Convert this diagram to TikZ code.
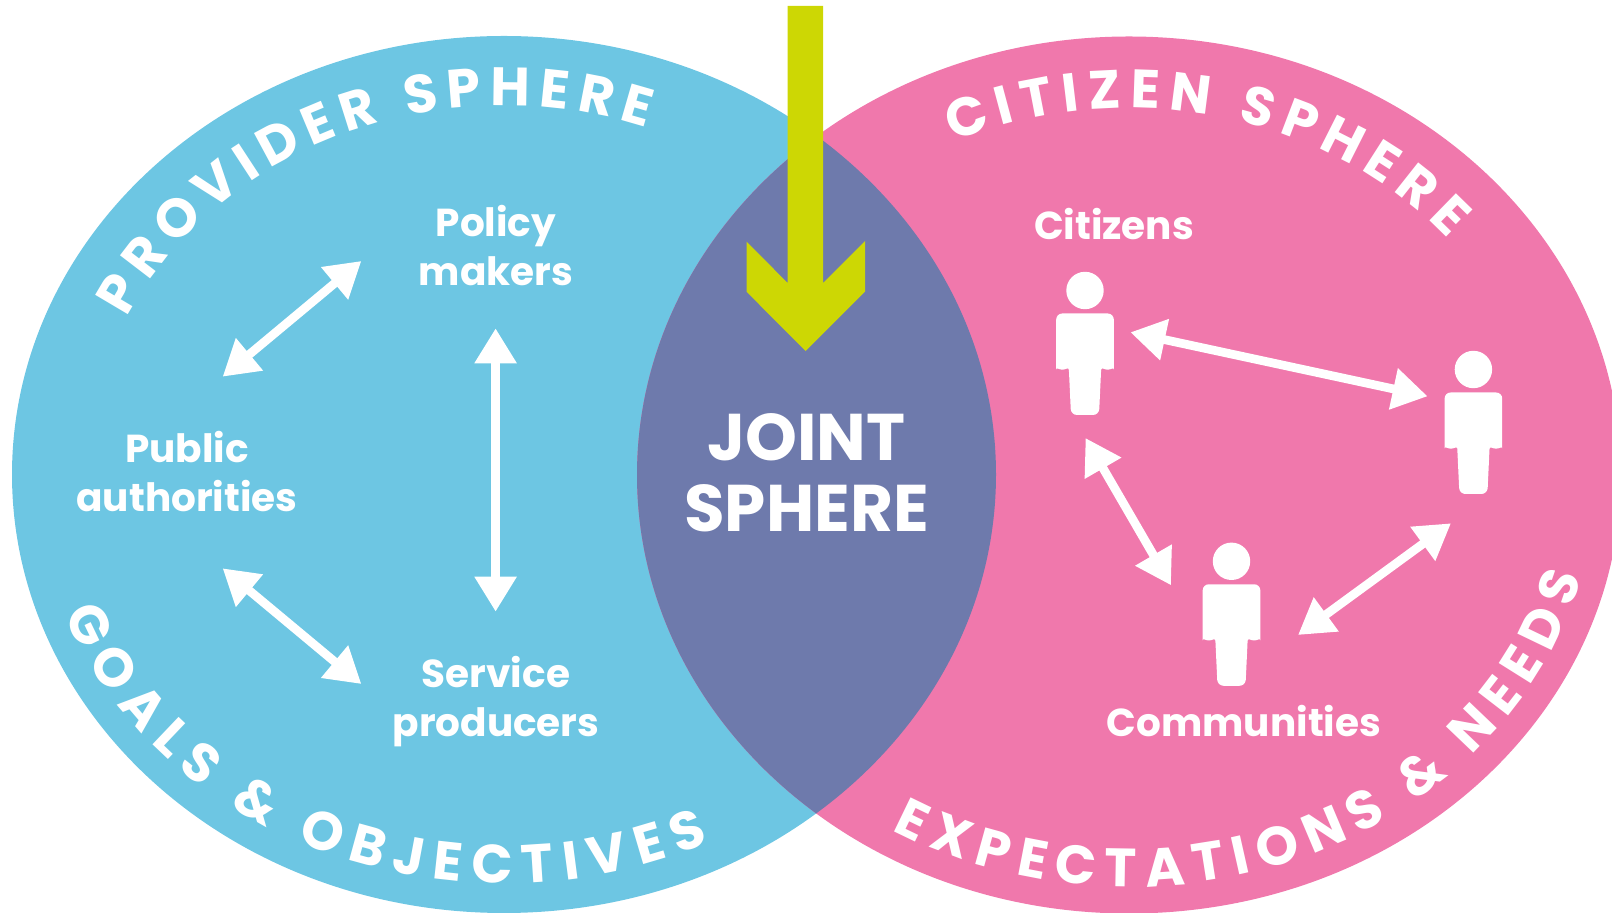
\documentclass[tikz,border=0pt]{standalone}
\usepackage{fontspec}
\setmainfont{Poppins}
\usetikzlibrary{arrows.meta, decorations.text}
\definecolor{providerblue}{HTML}{6DC6E3}
\definecolor{citizenpink}{HTML}{F078AC}
\definecolor{jointpurple}{HTML}{6E7AAC}
\definecolor{arrowgreen}{HTML}{CDD704}
\newcommand{\ringfont}{\color{white}\fontsize{54}{54}\selectfont\bfseries}
\tikzstyle{actor} = [align=center, text=white, font=\fontsize{39}{49}\selectfont\bfseries]
\tikzstyle{joint} = [align=center, text=white, font=\fontsize{66}{71}\selectfont\bfseries]
\tikzstyle{arrow} = [white, line width=8.7pt, {Triangle[length=35pt,width=40pt]}-{Triangle[length=35pt,width=40pt]}]
\tikzstyle{ring} = [decorate]
\tikzset{person/.pic={
  \fill[white] (0,0) circle (18.7pt);
  \fill[white, rounded corners=6pt] (-28.8pt,-23pt) -- (28.8pt,-23pt) -- (28.8pt,-73pt)
    arc[start angle=0,end angle=-180,radius=6.2pt] -- (14pt,-124.5pt) -- (-14pt,-124.5pt) -- (-16.4pt,-73pt)
    arc[start angle=0,end angle=-180,radius=6.2pt] -- cycle;
}}

\begin{document}
\begin{tikzpicture}[x=1pt, y=1pt]
\useasboundingbox (0,0) rectangle (1612,913);
\fill[providerblue] (504,438.5) ellipse [x radius=492pt, y radius=438.5pt];
\fill[citizenpink] (1129,438) ellipse [x radius=492pt, y radius=438.5pt];
\begin{scope}
\clip (504,438.5) ellipse [x radius=492pt, y radius=438.5pt];
\fill[jointpurple] (1129,438) ellipse [x radius=492pt, y radius=438.5pt];
\end{scope}
\fill[arrowgreen] (787.7,907) -- (823,907) -- (823,630) -- (865,672) -- (865,621.3) -- (805.5,562) -- (746.5,621.3) -- (746.5,671.3) -- (787.7,630) -- cycle;

\path[ring, decoration={text along path, text align=fit to path, text={|\ringfont|PROVIDER SPHERE}}]
  (504,438.5) ++(154.8:417pt and 369pt) arc[start angle=154.8, end angle=70, x radius=417pt, y radius=369pt];
\path[ring, decoration={text along path, text align=fit to path, text={|\ringfont|GOALS {\&} OBJECTIVES}}]
  (504,438.5) ++(200:468pt and 409pt) arc[start angle=200, end angle=296, x radius=468pt, y radius=409pt];
\path[ring, decoration={text along path, text align=fit to path, text={|\ringfont|CITIZEN SPHERE}}]
  (1129,438) ++(115:416pt and 367pt) arc[start angle=115, end angle=40, x radius=416pt, y radius=367pt];
\path[ring, decoration={text along path, text align=fit to path, text={|\ringfont|EXPECTATIONS {\&} NEEDS}}]
  (1129,438) ++(239.5:467pt and 412pt) arc[start angle=239.5, end angle=345.6, x radius=467pt, y radius=412pt];

\node(policy)[actor] at (496,667) {Policy\\makers};
\node(public)[actor] at (187,441) {Public\\authorities};
\node(service)[actor] at (496,211.5) {Service\\producers};
\node(citizens)[actor] at (1114,689) {Citizens};
\node(communities)[actor] at (1244,192) {Communities};
\node(jointsphere)[joint] at (806.5,440.5) {JOINT\\SPHERE};

\pic (citizena) at (1085,622.5) {person};
\pic (citizenb) at (1473.4,543.5) {person};
\pic (citizenc) at (1231.5,351.7) {person};

\coordinate(polA) at (361.4,652);
\coordinate(pubA) at (222.6,536.3);
\coordinate(pubB) at (222.6,344.7);
\coordinate(srvA) at (361.4,229);
\coordinate(polB) at (495.6,584.7);
\coordinate(srvB) at (495.6,301.3);
\coordinate(citA) at (1130.4,580.7);
\coordinate(citB) at (1427.6,516.7);
\coordinate(citC) at (1085.5,475);
\coordinate(comA) at (1171,327.7);
\coordinate(citD) at (1451,389.7);
\coordinate(comB) at (1298,278);
\draw[arrow] (polA) -- (pubA);
\draw[arrow] (pubB) -- (srvA);
\draw[arrow] (polB) -- (srvB);
\draw[arrow] (citA) -- (citB);
\draw[arrow] (citC) -- (comA);
\draw[arrow] (citD) -- (comB);
\end{tikzpicture}
\end{document}
